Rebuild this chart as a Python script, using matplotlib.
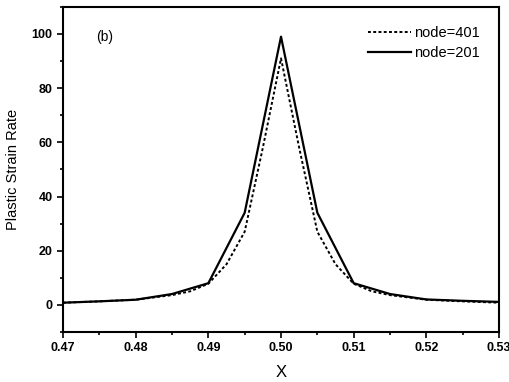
import numpy as np
import matplotlib.pyplot as plt

plt.rcParams['font.family'] = ['Liberation Sans', 'DejaVu Sans']

# node=401 (dotted), spacing 0.0025 near the peak
x401 = [0.47, 0.475, 0.48, 0.485, 0.4875, 0.49, 0.4925, 0.495, 0.4975, 0.50,
        0.5025, 0.505, 0.5075, 0.51, 0.5125, 0.515, 0.52, 0.525, 0.53]
y401 = [0.8, 1.3, 1.9, 3.6, 5.0, 7.8, 15.0, 27.0, 58.0, 91.0,
        58.0, 27.0, 15.0, 7.8, 5.0, 3.6, 1.9, 1.3, 0.8]

# node=201 (solid), spacing 0.005
x201 = [0.47, 0.475, 0.48, 0.485, 0.49, 0.495, 0.50, 0.505, 0.51, 0.515, 0.52, 0.525, 0.53]
y201 = [0.8, 1.3, 1.9, 4.0, 8.0, 34.0, 99.0, 34.0, 8.0, 4.0, 2.0, 1.5, 1.1]

fig = plt.figure(figsize=(5.1, 3.82), dpi=100)
ax = fig.add_axes([0.1235, 0.131, 0.855, 0.851])

ax.plot(x401, y401, color='black', linestyle=(0, (1.5, 1.2)), linewidth=1.4, label='node=401')
ax.plot(x201, y201, color='black', linestyle='-', linewidth=1.6, label='node=201')

ax.set_xlim(0.47, 0.53)
ax.set_ylim(-10, 110)
ax.set_xticks(np.arange(0.47, 0.5301, 0.01))
ax.set_xticklabels(['0.47', '0.48', '0.49', '0.50', '0.51', '0.52', '0.53'])
ax.set_xticks(np.arange(0.475, 0.53, 0.01), minor=True)
ax.set_yticks([0, 20, 40, 60, 80, 100])
ax.set_yticks([-10, 10, 30, 50, 70, 90, 110], minor=True)
ax.tick_params(which='both', direction='out', top=False, right=False, labelsize=9, width=1.2)
ax.tick_params(which='major', length=4)
ax.tick_params(which='minor', length=2.5)
for lbl in ax.get_xticklabels() + ax.get_yticklabels():
    lbl.set_fontweight('bold')
for s in ax.spines.values():
    s.set_linewidth(1.5)

ax.set_xlabel('X', fontsize=12, labelpad=8)
ax.set_ylabel('Plastic Strain Rate', fontsize=10.5, labelpad=8)
ax.text(0.4745, 99, '(b)', fontsize=10, va='center')

ax.legend(loc='upper right', frameon=False, fontsize=10.5, handlelength=3.0,
          handletextpad=0.2, borderaxespad=0.9, labelspacing=0.45)

fig.savefig('out.png', dpi=100)
